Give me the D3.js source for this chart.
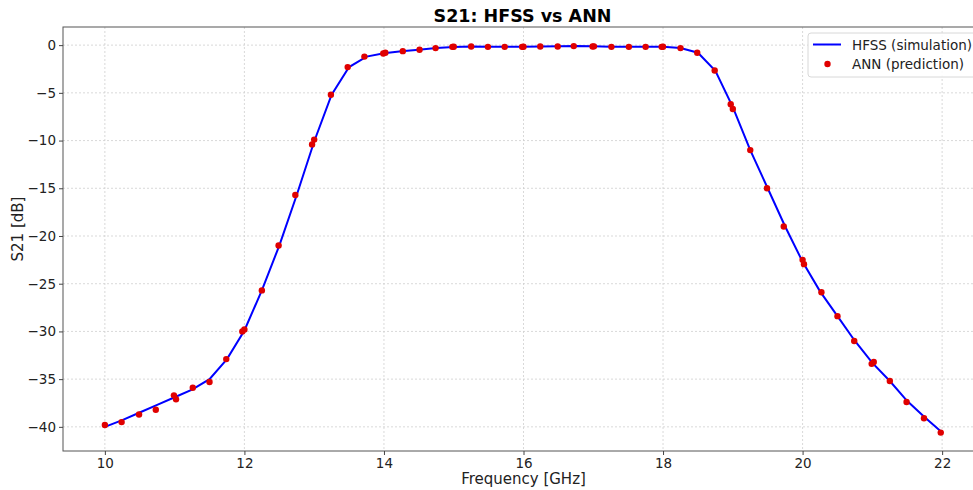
<!DOCTYPE html>
<html>
<head>
<meta charset="utf-8">
<script src="https://cdn.jsdelivr.net/npm/d3@7"></script>
<style>
  body { margin: 0; background: #fff; font-family: "DejaVu Sans", sans-serif; }
  .grid line { stroke: #cfcfcf; stroke-dasharray: 2,2; stroke-width: 0.8; }
  .axis text { font-size: 13.5px; fill: #222; font-family: "DejaVu Sans", sans-serif; }
  .axis path, .axis line { stroke: #444; }
</style>
</head>
<body>
<svg id="chart"></svg>
<script>
// HFSS simulation, sampled every 0.25 GHz from 10 to 22
const hfss_freq = [10, 10.25, 10.5, 10.75, 11, 11.25, 11.5, 11.75, 12, 12.25, 12.5, 12.75,
  13, 13.25, 13.5, 13.75, 14, 14.25, 14.5, 14.75, 15, 15.25, 15.5, 15.75,
  16, 16.25, 16.5, 16.75, 17, 17.25, 17.5, 17.75, 18, 18.25, 18.5, 18.75,
  19, 19.25, 19.5, 19.75, 20, 20.25, 20.5, 20.75, 21, 21.25, 21.5, 21.75, 22];
const hfss_s21 = [-40.0, -39.3, -38.5, -37.7, -36.9, -36.1, -35.0, -32.9, -29.9, -25.7, -21.0, -15.7,
  -10.1, -5.2, -2.3, -1.2, -0.85, -0.63, -0.48, -0.31, -0.2, -0.15, -0.17, -0.17,
  -0.17, -0.14, -0.13, -0.1, -0.13, -0.16, -0.17, -0.17, -0.17, -0.3, -0.8, -2.7,
  -6.5, -11.0, -15.0, -19.0, -22.7, -25.8, -28.4, -31.0, -33.3, -35.2, -37.3, -39.0, -40.6];

// ANN predictions
const ann_freq = [10, 10.24, 10.49, 10.73, 10.99, 11.02, 11.26, 11.5, 11.74, 11.97, 12.0,
  12.25, 12.49, 12.73, 12.97, 13.0, 13.24, 13.48, 13.72, 13.99, 14.02, 14.27, 14.51, 14.74,
  14.98, 15.0, 15.25, 15.49, 15.73, 15.98, 16.0, 16.24, 16.49, 16.72, 16.99, 17.01, 17.26,
  17.51, 17.75, 17.98, 18.0, 18.25, 18.49, 18.74, 18.97, 19.0, 19.25, 19.49, 19.73, 20.0,
  20.02, 20.27, 20.5, 20.74, 20.99, 21.02, 21.25, 21.49, 21.74, 21.98];
const ann_s21 = [-39.8, -39.5, -38.7, -38.2, -36.7, -37.1, -35.9, -35.3, -32.9, -30.0, -29.8,
  -25.7, -21.0, -15.7, -10.4, -9.9, -5.2, -2.3, -1.2, -0.87, -0.8, -0.63, -0.49, -0.31,
  -0.18, -0.17, -0.14, -0.18, -0.18, -0.18, -0.17, -0.14, -0.14, -0.1, -0.14, -0.13, -0.18,
  -0.18, -0.18, -0.18, -0.17, -0.31, -0.8, -2.66, -6.2, -6.7, -11.0, -15.0, -19.0, -22.5,
  -22.95, -25.9, -28.4, -31.0, -33.4, -33.2, -35.2, -37.4, -39.1, -40.6];

const x_ticks = [10, 12, 14, 16, 18, 20, 22];
const y_ticks = [0, -5, -10, -15, -20, -25, -30, -35, -40];

let width = 973, height = 490;
let padding = { left: 63, top: 27, right: -11, bottom: 39 };

let svg = d3.select('#chart').attr('width', width).attr('height', height);

let x = d3.scaleLinear().domain([9.4, 22.6]).range([padding.left, width - padding.right]);
let y = d3.scaleLinear().domain([-42.53, 1.9]).range([height - padding.bottom, padding.top]);

// grid
svg.append('g').attr('class', 'grid')
  .selectAll('line').data(x_ticks).enter().append('line')
  .attr('x1', d => x(d)).attr('x2', d => x(d))
  .attr('y1', padding.top).attr('y2', height - padding.bottom);
svg.append('g').attr('class', 'grid')
  .selectAll('line').data(y_ticks).enter().append('line')
  .attr('x1', padding.left).attr('x2', width - padding.right)
  .attr('y1', d => y(d)).attr('y2', d => y(d));

// frame
svg.append('rect')
  .attr('x', padding.left).attr('y', padding.top)
  .attr('width', width - padding.right - padding.left)
  .attr('height', height - padding.bottom - padding.top)
  .attr('fill', 'none').attr('stroke', '#555').attr('stroke-width', 1);

// axes
let axis_x = d3.axisBottom(x).tickValues(x_ticks).tickSize(4).tickPadding(3).tickFormat(d => d);
svg.append('g').attr('class', 'axis')
  .attr('transform', `translate(0, ${height - padding.bottom})`)
  .call(axis_x)
  .call(g => g.select('.domain').remove());

let axis_y = d3.axisLeft(y).tickValues(y_ticks).tickSize(4).tickPadding(3)
  .tickFormat(d => d < 0 ? '\u2212' + Math.abs(d) : d);
svg.append('g').attr('class', 'axis')
  .attr('transform', `translate(${padding.left}, 0)`)
  .call(axis_y)
  .call(g => g.select('.domain').remove());

// line
let line = d3.line().x(d => x(d[0])).y(d => y(d[1]));
svg.append('path')
  .datum(hfss_freq.map((f, i) => [f, hfss_s21[i]]))
  .attr('d', line)
  .attr('fill', 'none').attr('stroke', '#0000ff').attr('stroke-width', 2);

// points
svg.append('g')
  .selectAll('circle')
  .data(ann_freq.map((f, i) => [f, ann_s21[i]]))
  .enter().append('circle')
  .attr('cx', d => x(d[0]))
  .attr('cy', d => y(d[1]))
  .attr('r', 3.2)
  .attr('fill', '#e00000');

// title & labels
let plot_cx = (padding.left + width - padding.right) / 2;
svg.append('text')
  .attr('x', plot_cx - 1).attr('y', 22)
  .attr('text-anchor', 'middle')
  .attr('font-size', '17.5px').attr('font-weight', 'bold')
  .text('S21: HFSS vs ANN');

svg.append('text')
  .attr('x', plot_cx).attr('y', 484)
  .attr('text-anchor', 'middle')
  .attr('font-size', '15px').attr('fill', '#222')
  .text('Frequency [GHz]');

svg.append('text')
  .attr('transform', `translate(23, ${(padding.top + height - padding.bottom) / 2 - 10}) rotate(-90)`)
  .attr('text-anchor', 'middle')
  .attr('font-size', '15px').attr('fill', '#222')
  .text('S21 [dB]');

// legend
let legend = svg.append('g').attr('transform', 'translate(808, 33)');
legend.append('rect')
  .attr('width', 175).attr('height', 44).attr('rx', 3)
  .attr('fill', 'white').attr('fill-opacity', 0.85)
  .attr('stroke', '#d8d8d8');
legend.append('line')
  .attr('x1', 5).attr('x2', 33).attr('y1', 11.5).attr('y2', 11.5)
  .attr('stroke', '#0000ff').attr('stroke-width', 2);
legend.append('circle')
  .attr('cx', 19.5).attr('cy', 31).attr('r', 3.2).attr('fill', '#e00000');
legend.append('text').attr('x', 44).attr('y', 16.5)
  .attr('font-size', '13.5px').attr('fill', '#222').text('HFSS (simulation)');
legend.append('text').attr('x', 44).attr('y', 36)
  .attr('font-size', '13.5px').attr('fill', '#222').text('ANN (prediction)');
</script>
</body>
</html>
